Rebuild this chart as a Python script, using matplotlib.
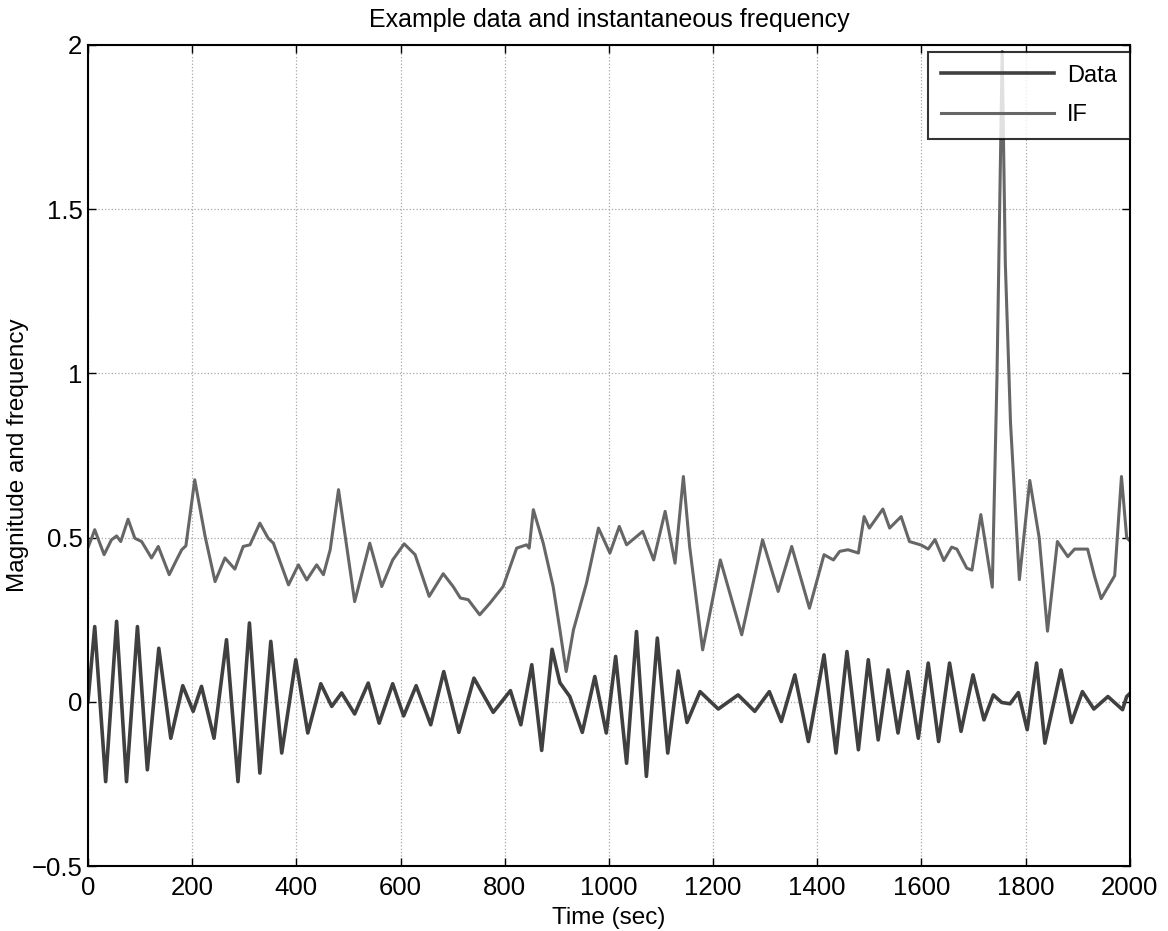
import matplotlib
matplotlib.use("Agg")
import matplotlib.pyplot as plt

plt.rcParams["font.family"] = ["Liberation Sans", "DejaVu Sans"]

# Data (turning points)
data_t = [0, 13, 34, 55, 74, 95, 114, 136, 159, 182,
          202, 218, 242, 266, 288, 310, 330, 351, 372, 399,
          422, 447, 468, 487, 512, 538, 559, 585, 606, 630,
          658, 683, 712, 741, 778, 811, 831, 852, 871, 891,
          906, 925, 949, 973, 995, 1013, 1034, 1053, 1072, 1093,
          1113, 1133, 1150, 1175, 1210, 1248, 1280, 1308, 1331, 1357,
          1383, 1413, 1436, 1457, 1479, 1498, 1517, 1536, 1555, 1574,
          1594, 1613, 1633, 1654, 1676, 1699, 1720, 1738, 1754, 1770,
          1786, 1803, 1821, 1837, 1868, 1888, 1909, 1931, 1958, 1986,
          1994, 2000]
data_v = [0.0, 0.229, -0.243, 0.245, -0.243, 0.229, -0.207, 0.163, -0.111, 0.049,
          -0.029, 0.047, -0.111, 0.189, -0.243, 0.240, -0.217, 0.184, -0.156, 0.128,
          -0.095, 0.055, -0.014, 0.027, -0.037, 0.057, -0.065, 0.055, -0.043, 0.049,
          -0.070, 0.092, -0.093, 0.072, -0.032, 0.034, -0.070, 0.113, -0.148, 0.160,
          0.058, 0.016, -0.093, 0.077, -0.095, 0.138, -0.187, 0.214, -0.227, 0.194,
          -0.156, 0.094, -0.063, 0.031, -0.022, 0.021, -0.029, 0.031, -0.060, 0.082,
          -0.121, 0.143, -0.156, 0.153, -0.146, 0.128, -0.116, 0.097, -0.095, 0.092,
          -0.111, 0.118, -0.121, 0.118, -0.090, 0.082, -0.055, 0.021, -0.002, -0.006,
          0.028, -0.085, 0.118, -0.126, 0.097, -0.063, 0.031, -0.022, 0.016, -0.024,
          0.016, 0.025]

# Instantaneous frequency
if_t = [0, 7, 13, 31, 45, 55, 63, 77, 90, 103,
        122, 135, 156, 170, 180, 188, 205, 225, 244, 263,
        282, 298, 311, 330, 346, 356, 385, 404, 420, 439,
        452, 465, 481, 512, 541, 564, 585, 607, 628, 655,
        682, 701, 715, 730, 752, 772, 797, 823, 842, 847,
        855, 874, 893, 906, 918, 932, 957, 980, 1002, 1020,
        1034, 1065, 1086, 1108, 1127, 1143, 1155, 1180, 1214, 1255,
        1295, 1325, 1351, 1385, 1413, 1431, 1443, 1459, 1479, 1490,
        1500, 1526, 1539, 1561, 1577, 1600, 1613, 1626, 1643, 1658,
        1668, 1687, 1697, 1714, 1736, 1745, 1755, 1761, 1771, 1788,
        1808, 1826, 1842, 1861, 1881, 1894, 1919, 1932, 1945, 1971,
        1976, 1984, 1994, 2000]
if_v = [0.47, 0.498, 0.524, 0.448, 0.493, 0.505, 0.488, 0.556, 0.498, 0.488,
        0.438, 0.473, 0.387, 0.432, 0.463, 0.475, 0.676, 0.503, 0.366, 0.438,
        0.404, 0.473, 0.478, 0.544, 0.498, 0.483, 0.356, 0.417, 0.371, 0.417,
        0.387, 0.463, 0.646, 0.305, 0.483, 0.351, 0.432, 0.481, 0.448, 0.321,
        0.390, 0.351, 0.316, 0.311, 0.265, 0.301, 0.351, 0.468, 0.478, 0.468,
        0.585, 0.483, 0.351, 0.219, 0.092, 0.219, 0.361, 0.529, 0.453, 0.534,
        0.478, 0.519, 0.432, 0.580, 0.422, 0.686, 0.473, 0.158, 0.432, 0.204,
        0.493, 0.336, 0.473, 0.285, 0.448, 0.432, 0.458, 0.463, 0.453, 0.564,
        0.529, 0.587, 0.529, 0.564, 0.488, 0.477, 0.465, 0.494, 0.430, 0.471,
        0.465, 0.407, 0.401, 0.570, 0.349, 0.988, 1.980, 1.337, 0.849, 0.372,
        0.674, 0.500, 0.215, 0.488, 0.442, 0.465, 0.465, 0.384, 0.314, 0.384,
        0.500, 0.686, 0.500, 0.490]

x_ticks = [0, 200, 400, 600, 800, 1000, 1200, 1400, 1600, 1800, 2000]
y_ticks = [-0.5, 0, 0.5, 1, 1.5, 2]
y_tick_labels = ["\u22120.5", "0", "0.5", "1", "1.5", "2"]

fig = plt.figure(figsize=(11.68, 9.31), dpi=100)
ax = fig.add_axes([0.0753, 0.0698, 0.892, 0.8819])

ax.plot(data_t, data_v, color="#404040", lw=2.6, label="Data",
        solid_joinstyle="round")
ax.plot(if_t, if_v, color="#666666", lw=2.2, label="IF",
        solid_joinstyle="round")

ax.set_xlim(0, 2000)
ax.set_ylim(-0.5, 2)
ax.set_xticks(x_ticks)
ax.set_yticks(y_ticks)
ax.set_yticklabels(y_tick_labels)
ax.tick_params(direction="in", length=6, width=1, labelsize=18.5,
               top=True, right=True)
ax.tick_params(axis="x", pad=7)
ax.tick_params(axis="y", pad=4)
ax.grid(True, linestyle=":", color="#a8a8a8", lw=0.9)
for s in ax.spines.values():
    s.set_linewidth(1.5)

ax.set_title("Example data and instantaneous frequency", fontsize=18, pad=13)
ax.set_xlabel("Time (sec)", fontsize=17.5, labelpad=5)
ax.set_ylabel("Magnitude and frequency", fontsize=17.5, labelpad=1.5)

leg = ax.legend(loc="upper right", bbox_to_anchor=(1.0, 0.992), borderaxespad=0,
                fontsize=17, handlelength=4.8, frameon=True, fancybox=False,
                borderpad=0.55, labelspacing=0.75, handletextpad=0.55)
leg.get_frame().set_edgecolor("black")
leg.get_frame().set_linewidth(1.5)

fig.savefig("out.png", dpi=100)
